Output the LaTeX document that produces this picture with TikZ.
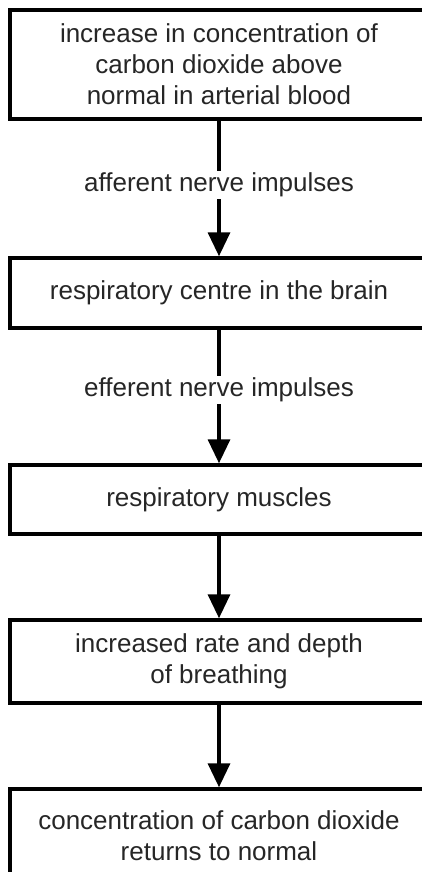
\documentclass[tikz,border=0pt]{standalone}
\usepackage{fontspec}
\setmainfont{Liberation Sans}
\usetikzlibrary{arrows.meta}

\begin{document}
\begin{tikzpicture}[x=1pt, y=-1pt, >={Triangle[width=22pt,length=24pt]},
    hop/.style={draw, line width=3.5pt, minimum width=418pt, inner sep=0pt, align=center,
        font=\fontsize{26}{31}\selectfont, text=black!85},
    nhan/.style={fill=white, inner sep=1.5pt, font=\fontsize{26}{31}\selectfont, text=black!85}]
    % Khung
    \useasboundingbox (0,0) rectangle (421,872);
    
    \node[hop, minimum height=109pt] (tang) at (219,64.5) {increase in concentration of\\carbon dioxide above\\normal in arterial blood};
    \node[hop, minimum height=70pt] (trungtam) at (219,293) {respiratory centre in the brain};
    \node[hop, minimum height=69pt] (co) at (219,499.5) {respiratory muscles};
    \node[hop, minimum height=83pt] (tho) at (219,661.5) {increased rate and depth\\of breathing};
    \node[hop, minimum height=94pt] (binhthuong) at (219,836) {concentration of carbon dioxide\\returns to normal};
    
    \draw[->, line width=3.5pt] (tang) -- (trungtam);
    \draw[->, line width=3.5pt] (trungtam) -- (co);
    \draw[->, line width=3.5pt] (co) -- (tho);
    \draw[->, line width=3.5pt] (tho) -- (binhthuong);
    \node[nhan] (huongtam) at (219,185) {afferent nerve impulses};
    \node[nhan] (lytam) at (219,390) {efferent nerve impulses};
\end{tikzpicture}
\end{document}
